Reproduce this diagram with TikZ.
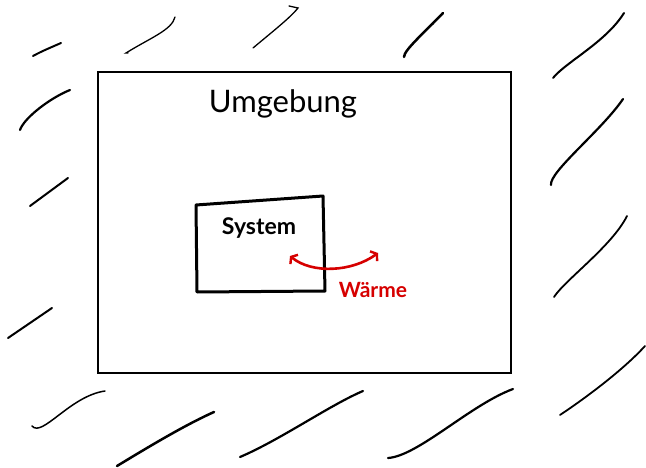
\documentclass[tikz,border=0pt]{standalone}
\usepackage{fontspec}
\setmainfont{Lato}
\usetikzlibrary{arrows.meta}
\definecolor{warm}{RGB}{214,0,0}
\begin{document}
\begin{tikzpicture}[x=1pt,y=-1pt,
  hatch/.style={line width=#1, line cap=round, black},
  hatch/.default=2pt,
  lbl/.style={anchor=base, inner sep=0pt},
  frame/.style={draw, line width=1.6pt, inner sep=0pt, anchor=north west}]
\useasboundingbox (0,0) rectangle (646,468);

% environment frame
\node[frame, minimum width=413pt, minimum height=301pt] (env) at (97,71) {};
\node[lbl, font=\fontsize{31}{31}\selectfont] (umg) at (283,113) {Umgebung};

% system box (hand drawn, slightly skewed)
\coordinate (s1) at (196,205);
\coordinate (s2) at (323,196);
\coordinate (s3) at (325,291);
\coordinate (s4) at (197,292);
\draw[line width=3pt, line join=round] (s1) -- (s2) -- (s3) -- (s4) -- cycle;
\node[lbl, font=\bfseries\fontsize{23}{23}\selectfont] (sys) at (259,235) {System};

% heat exchange arrow
\coordinate (hL) at (290,256);
\coordinate (hR) at (378,253);
\draw[warm, line width=2.6pt, line cap=round,
  {Straight Barb[length=4pt,width=12pt,line width=2.4pt]}-{Straight Barb[length=4pt,width=12pt,line width=2.4pt]}]
  (hL) .. controls (312,274) and (352,272) .. (hR);
\node[lbl, warm, font=\bfseries\fontsize{21}{21}\selectfont] (waerme) at (373,298) {Wärme};

% hatch strokes outside
\draw[hatch=2pt] (33,56) .. controls (42,51) and (52,47) .. (61,43);
\draw[hatch=1.3pt] (128,53) -- (126,53) .. controls (150,38) and (172,30) .. (175,17);
\draw[hatch=1.3pt] (253,48) .. controls (272,32) and (290,18) .. (298,8) -- (289,6);
\draw[hatch=2.5pt] (404,57) .. controls (404,50) and (425,32) .. (443,13);
\draw[hatch=2pt] (553,78) .. controls (566,62) and (606,42) .. (624,13);
\draw[hatch=2.2pt] (20,130) .. controls (24,118) and (50,98) .. (70,90);
\draw[hatch=2pt] (30,206) -- (68,178);
\draw[hatch=2pt] (8,338) -- (52,308);
\draw[hatch=2.2pt] (551,185) .. controls (549,172) and (602,130) .. (623,99);
\draw[hatch=1.8pt] (554,297) .. controls (565,280) and (612,246) .. (627,216);
\draw[hatch=1.8pt] (560,415) .. controls (590,395) and (625,368) .. (645,346);
\draw[hatch=1.5pt] (32,426) .. controls (42,438) and (70,396) .. (105,391);
\draw[hatch=2.5pt] (117,466) .. controls (150,446) and (185,425) .. (214,412);
\draw[hatch=2.2pt] (240,457) .. controls (280,440) and (330,405) .. (363,391);
\draw[hatch=2.2pt] (388,458) .. controls (418,456) and (470,405) .. (513,389);
\end{tikzpicture}
\end{document}
